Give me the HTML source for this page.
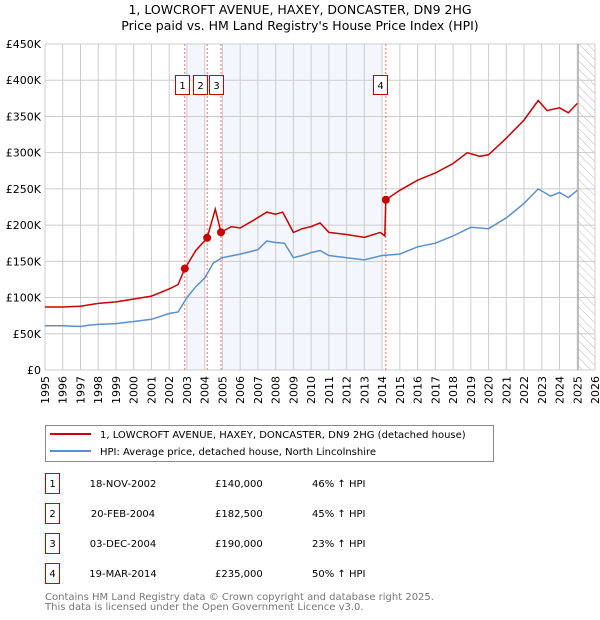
<!DOCTYPE html>
<html><head><meta charset="utf-8"><style>
body{margin:0;background:#fff;font-family:"DejaVu Sans","Liberation Sans",sans-serif;}
svg{display:block}
</style></head><body>
<svg id="chart" width="600" height="620" xmlns="http://www.w3.org/2000/svg" font-family="DejaVu Sans, Liberation Sans, sans-serif">
<text x="300" y="14" text-anchor="middle" font-size="12.5">1, LOWCROFT AVENUE, HAXEY, DONCASTER, DN9 2HG</text>
<text x="300" y="30" text-anchor="middle" font-size="12.5">Price paid vs. HM Land Registry's House Price Index (HPI)</text>
<defs><pattern id="hatch" patternUnits="userSpaceOnUse" width="6" height="6" patternTransform="rotate(-45)"><line x1="0" y1="0" x2="0" y2="6" stroke="#bbb" stroke-width="1"/></pattern></defs>
<g id="plot"></g>
<g>
<rect x="45.5" y="425.5" width="448" height="36" fill="#fff" stroke="#888"/>
<line x1="50" y1="434" x2="91" y2="434" stroke="#cc0000" stroke-width="2"/>
<text x="100" y="438" font-size="10">1, LOWCROFT AVENUE, HAXEY, DONCASTER, DN9 2HG (detached house)</text>
<line x1="50" y1="451" x2="91" y2="451" stroke="#5b8fd0" stroke-width="2"/>
<text x="100" y="455" font-size="10">HPI: Average price, detached house, North Lincolnshire</text>
</g>
<g id="table" font-size="10"></g>
<text x="45" y="600" font-size="10" fill="#777">Contains HM Land Registry data © Crown copyright and database right 2025.</text>
<text x="45" y="610" font-size="10" fill="#777">This data is licensed under the Open Government Licence v3.0.</text>
</svg>
<script>
const hpiYears=[1995,1996,1997,1997.5,1998,1999,2000,2001,2002,2002.5,2003,2003.5,2004,2004.5,2005,2006,2007,2007.5,2008,2008.5,2009,2009.5,2010,2010.5,2011,2012,2013,2014,2015,2016,2017,2018,2019,2020,2021,2022,2022.8,2023.5,2024,2024.5,2025];
const hpiValues=[61,61,60,62,63,64,67,70,78,80,100,115,127,148,155,160,166,178,176,175,155,158,162,165,158,155,152,158,160,170,175,185,197,195,210,230,250,240,245,238,248];
const redYears=[1995,1996,1997,1998,1999,2000,2001,2002,2002.5,2002.88,2003.5,2004.13,2004.6,2004.92,2005.5,2006,2006.7,2007.5,2008,2008.4,2009,2009.5,2010,2010.5,2011,2012,2013,2013.9,2014.15,2014.21,2015,2016,2017,2018,2018.8,2019.5,2020,2021,2022,2022.8,2023.3,2024,2024.5,2025];
const redValues=[87,87,88,92,94,98,102,112,118,140,165,182,222,190,198,196,206,218,215,218,190,195,198,203,190,187,183,190,185,235,248,262,272,285,300,295,297,320,345,372,358,362,355,368];
const saleYears=[2002.88,2004.14,2004.92,2014.21];
const saleValues=[140,182.5,190,235];
const saleLabels=["1","2","3","4"];
const saleDates=["18-NOV-2002","20-FEB-2004","03-DEC-2004","19-MAR-2014"];
const salePrices=["£140,000","£182,500","£190,000","£235,000"];
const saleHpi=["46% ↑ HPI","45% ↑ HPI","23% ↑ HPI","50% ↑ HPI"];
const yTicks=[0,50,100,150,200,250,300,350,400,450];
const yTickLabels=["£0","£50K","£100K","£150K","£200K","£250K","£300K","£350K","£400K","£450K"];
const xTicks=[];for(let y=1995;y<=2026;y++)xTicks.push(y);

const X0=45,X1=595,Y0=370,Y1=44;
const xs=v=>X0+(v-1995)/(2026-1995)*(X1-X0);
const ys=v=>Y0-v/450*(Y0-Y1);
const NS="http://www.w3.org/2000/svg";
const plot=document.getElementById('plot');
function mk(tag,attrs,parent){const e=document.createElementNS(NS,tag);for(const k in attrs)e.setAttribute(k,attrs[k]);(parent||plot).appendChild(e);return e;}

let e;
e=mk('rect',{x:xs(2003),y:Y1,width:xs(2004)-xs(2003),height:Y0-Y1,fill:'#eef3fc',opacity:0.7});


e=mk('rect',{x:xs(2005),y:Y1,width:xs(2014)-xs(2005),height:Y0-Y1,fill:'#eef3fc',opacity:0.7});


e=mk('rect',{x:xs(2025.05),y:Y1,width:X1-xs(2025.05),height:Y0-Y1,fill:'url(#hatch)'});



yTicks.forEach((t,i)=>{
  e=mk('line',{x1:X0,x2:X1,y1:ys(t),y2:ys(t),stroke:'#ccc','stroke-width':1});
  
  
  e=mk('text',{x:X0-4,y:ys(t)+4,'text-anchor':'end','font-size':11});
  e.textContent=yTickLabels[i];
  
  
});
xTicks.forEach(t=>{
  e=mk('line',{x1:xs(t),x2:xs(t),y1:Y1,y2:Y0,stroke:'#ccc','stroke-width':1});
  
  
  e=mk('text',{x:0,y:0,'font-size':11,'text-anchor':'end',transform:`translate(${xs(t)+4},${Y0+6}) rotate(-90)`});
  e.textContent=t;
  
  
});
e=mk('line',{x1:xs(2025.05),x2:xs(2025.05),y1:Y1,y2:Y0,stroke:'#999','stroke-width':1});



saleYears.forEach((y,i)=>{
  e=mk('line',{x1:xs(y),x2:xs(y),y1:Y1,y2:Y0,stroke:'#f07070','stroke-width':1,'stroke-dasharray':'2,2'});
  
  
});

function path(xa,va,color,name){
  const d=xa.map((x,i)=>(i?'L':'M')+xs(x).toFixed(1)+','+ys(va[i]).toFixed(1)).join('');
  const p=mk('path',{d:d,fill:'none',stroke:color,'stroke-width':1.5});
  
  
}
path(hpiYears,hpiValues,'#5b8fd0','hpi-line');
path(redYears,redValues,'#cc0000','price-paid-line');

saleYears.forEach((y,i)=>{
  e=mk('circle',{cx:xs(y),cy:ys(saleValues[i]),r:4,fill:'#cc0000'});
  
  
  const bx=[xs(y)-10,xs(y)-10,xs(y)-6,xs(y)-10][i]+(i==1?0:0);
  const boxX=[175.5,193.5,209.5,373.5][i];
  e=mk('rect',{x:boxX,y:75.5,width:14,height:19,fill:'#fff',stroke:'#cc0000','stroke-width':1});
  
  
  e=mk('text',{x:boxX+7,y:89,'text-anchor':'middle','font-size':10});
  e.textContent=saleLabels[i];
  
  
});

const tbl=document.getElementById('table');
saleLabels.forEach((l,i)=>{
  const cy=483+i*30;
  const g=mk('g',{},tbl);
  
  
  mk('rect',{x:45.5,y:cy-9.5,width:14,height:20,fill:'#fff',stroke:'#cc0000'},g);
  const t=(x,txt,a)=>{const z=mk('text',{x:x,y:cy+4,'text-anchor':a||'start'},g);z.textContent=txt;};
  t(52.5,l,'middle');
  t(123,saleDates[i],'middle');
  t(215,salePrices[i]);
  t(312,saleHpi[i]);
});
</script>
</body></html>
